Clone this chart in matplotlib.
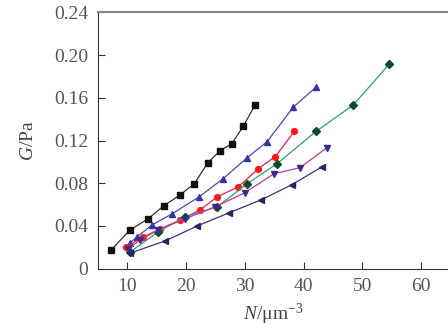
import matplotlib
matplotlib.use("Agg")
import matplotlib.pyplot as plt

plt.rcParams['font.family'] = ['Liberation Serif', 'DejaVu Serif']
plt.rcParams['mathtext.fontset'] = 'custom'
plt.rcParams['mathtext.it'] = 'Liberation Serif:italic'
plt.rcParams['mathtext.rm'] = 'Liberation Serif'

# データ
黒_x = [7.2, 10.45, 13.5, 16.2, 19.0, 21.4, 23.7, 25.8, 27.8, 29.7, 31.7]
黒_y = [0.0174, 0.0363, 0.0466, 0.0589, 0.0692, 0.0796, 0.0993, 0.1106, 0.1172, 0.1332, 0.1530]

青_x = [10.45, 11.6, 14.2, 17.6, 22.2, 26.3, 30.4, 33.8, 38.2, 42.1]
青_y = [0.024, 0.0297, 0.041, 0.0513, 0.0673, 0.0843, 0.104, 0.119, 0.151, 0.170]

赤_x = [9.8, 12.7, 15.6, 19.0, 22.4, 25.3, 28.9, 32.3, 35.2, 38.4]
赤_y = [0.0202, 0.0297, 0.0372, 0.0457, 0.0551, 0.0673, 0.0767, 0.0937, 0.105, 0.1285]

緑_x = [10.45, 15.2, 19.8, 25.3, 30.4, 35.5, 42.1, 48.4, 54.6]
緑_y = [0.0155, 0.0344, 0.0485, 0.0579, 0.0796, 0.0984, 0.1285, 0.1530, 0.1916]

紫_x = [10.1, 12.2, 15.2, 19.8, 24.9, 30.0, 35.0, 39.4, 44.0]
紫_y = [0.0184, 0.0268, 0.0363, 0.0466, 0.0579, 0.0711, 0.089, 0.0946, 0.1134]

紺_x = [10.45, 16.4, 21.9, 27.3, 32.8, 38.0, 43.2]
紺_y = [0.0146, 0.0259, 0.040, 0.0523, 0.0645, 0.0786, 0.0956]

x目盛 = [10, 20, 30, 40, 50, 60]
y目盛 = [0, 0.04, 0.08, 0.12, 0.16, 0.20, 0.24]
y目盛ラベル = ["0", "0.04", "0.08", "0.12", "0.16", "0.20", "0.24"]

fig = plt.figure(figsize=(4.48, 3.28), dpi=100)
ax = fig.add_axes([0.219, 0.181, 0.781, 0.781])

系列 = [
    (黒_x, 黒_y, 's', '#111111', '#333333'),
    (青_x, 青_y, '^', '#3535a5', '#4a4aa8'),
    (赤_x, 赤_y, 'o', '#ff1a1a', '#e8204a'),
    (緑_x, 緑_y, 'D', '#0d4a2a', '#33a070'),
    (紫_x, 紫_y, 'v', '#3b2a8a', '#c03aa0'),
    (紺_x, 紺_y, '<', '#252560', '#353585'),
]
for xs, ys, m, mc, lc in 系列:
    ax.plot(xs, ys, color=lc, lw=0.9, marker=m, markersize=4.2,
            markerfacecolor=mc, markeredgecolor=mc)

ax.set_xlim(5, 64.6)
ax.set_ylim(0, 0.24)
ax.set_xticks(x目盛)
ax.set_yticks(y目盛)
ax.set_yticklabels(y目盛ラベル)
ax.tick_params(direction='in', length=5, width=0.8, labelsize=14, pad=7,
               colors='#333333', labelcolor='#555555')

ax.spines['right'].set_visible(False)
ax.spines['top'].set_color('#888888')
ax.spines['top'].set_linewidth(1.5)
ax.spines['left'].set_color('#333333')
ax.spines['bottom'].set_color('#333333')

ax.set_xlabel(r'$N$/μm$^{-3}$', fontsize=14, color='#444444', labelpad=5)
ax.set_ylabel(r'$G$/Pa', fontsize=14, color='#444444', labelpad=12)

fig.savefig("out.png", dpi=100)
